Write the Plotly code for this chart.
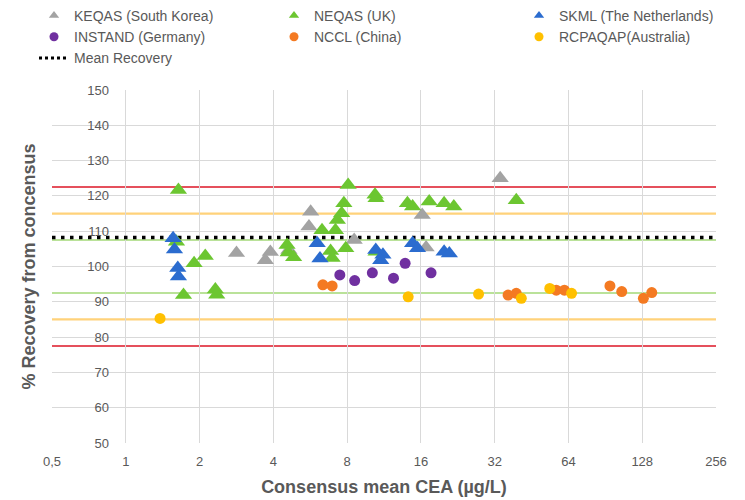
import math
import plotly.graph_objects as go

# ---------------- data ----------------
X_TICKS = [0.5, 1, 2, 4, 8, 16, 32, 64, 128, 256]
X_TICK_TEXT = ["0,5", "1", "2", "4", "8", "16", "32", "64", "128", "256"]

keqas_x = [2.83, 3.71, 3.89, 4.63, 5.59, 5.68, 8.55, 16.2, 16.8, 33.7]
keqas_y = [103.8, 101.8, 104.1, 104.7, 111.3, 115.5, 107.5, 114.6, 105.4, 125.0]

neqas_x = [1.64, 1.61, 1.90, 2.11, 1.72, 2.32, 2.35,
           4.55, 4.60, 4.84, 6.32, 6.85, 6.95, 7.17, 7.30, 7.60, 7.76, 8.08, 7.90,
           10.4, 10.5, 10.5, 14.1, 14.8, 17.3, 19.9, 21.8, 39.2]
neqas_y = [121.7, 107.0, 100.9, 103.0, 91.9, 93.5, 92.0,
           106.1, 104.0, 102.6, 110.3, 104.4, 102.4, 110.3, 113.2, 115.1, 117.9, 123.1, 105.2,
           120.3, 119.3, 104.2, 117.9, 117.0, 118.4, 117.9, 117.0, 118.8]

skml_x = [1.56, 1.58, 1.63, 1.64, 6.04, 6.20, 10.47, 11.2, 10.97, 14.8, 15.5, 19.9, 20.9]
skml_y = [108.0, 104.8, 99.6, 97.2, 106.6, 102.3, 104.7, 103.3, 101.8, 106.6, 105.2, 104.2, 103.7]

instand_x = [7.47, 8.59, 10.14, 12.37, 13.8, 17.6]
instand_y = [97.6, 96.0, 98.2, 96.7, 100.9, 98.2]

nccl_x = [6.37, 6.95, 36.3, 39.2, 57.1, 61.6, 94.5, 105.6, 129.4, 140.0]
nccl_y = [94.8, 94.5, 91.9, 92.4, 93.3, 93.3, 94.5, 92.9, 91.0, 92.6]

rcpa_x = [1.38, 14.2, 27.5, 41.1, 53.7, 65.9]
rcpa_y = [85.3, 91.4, 92.2, 91.0, 93.8, 92.4]

MEAN_RECOVERY = 108.2
RED_LIMITS = [122.5, 77.5]
YELLOW_LIMITS = [115, 85]
GREEN_LIMITS = [107.5, 92.5]

X_TITLE = "Consensus mean CEA (µg/L)"
Y_TITLE = "% Recovery from concensus"

# ---------------- style ----------------
GREY = "#a3a3a3"
GREEN = "#6cc631"
BLUE = "#2b6ccf"
PURPLE = "#7030a0"
ORANGE = "#f47a22"
YELLOW = "#ffc000"
TEXT = "#595959"
GRID = "#d9d9d9"
FONT = "Arial, Liberation Sans, sans-serif"

fig = go.Figure()

# mean recovery line (below markers)
fig.add_trace(go.Scatter(
    x=[X_TICKS[0], X_TICKS[-1]], y=[MEAN_RECOVERY, MEAN_RECOVERY],
    mode="lines", line=dict(color="black", width=3.5, dash="3.5px,5.5px"),
    name="Mean Recovery", showlegend=False, hoverinfo="skip"))

series = [
    ("KEQAS (South Korea)", keqas_x, keqas_y, "triangle-up", GREY, "legend"),
    ("NEQAS (UK)", neqas_x, neqas_y, "triangle-up", GREEN, "legend2"),
    ("SKML (The Netherlands)", skml_x, skml_y, "triangle-up", BLUE, "legend3"),
    ("INSTAND (Germany)", instand_x, instand_y, "circle", PURPLE, "legend"),
    ("NCCL (China)", nccl_x, nccl_y, "circle", ORANGE, "legend2"),
    ("RCPAQAP(Australia)", rcpa_x, rcpa_y, "circle", YELLOW, "legend3"),
]

for name, xs, ys, sym, col, lg in series:
    fig.add_trace(go.Scatter(
        x=xs, y=ys, mode="markers", name=name, showlegend=False,
        marker=dict(symbol=sym, size=15 if sym == "triangle-up" else 11,
                    color=col, line=dict(width=0))))

# legend entries (small symbols like the reference)
for name, xs, ys, sym, col, lg in series:
    fig.add_trace(go.Scatter(
        x=[None], y=[None], mode="markers", name=name, legend=lg,
        marker=dict(symbol=sym, size=9, color=col)))
fig.add_trace(go.Scatter(
    x=[None], y=[None], mode="lines", name="Mean Recovery", legend="legend",
    line=dict(color="black", width=3, dash="3px,3px")))

shapes = []
for vals, col, w in [(GREEN_LIMITS, "#a3d877", 1.5),
                     (YELLOW_LIMITS, "#ffd27a", 2.2),
                     (RED_LIMITS, "#e5505c", 2)]:
    for v in vals:
        shapes.append(dict(type="line", xref="paper", x0=0, x1=1,
                           yref="y", y0=v, y1=v,
                           line=dict(color=col, width=w), layer="below"))

leg_common = dict(xref="container", yref="container", xanchor="left",
                  yanchor="top", bgcolor="rgba(0,0,0,0)",
                  font=dict(family=FONT, size=14, color=TEXT),
                  tracegroupgap=0, itemwidth=30)

fig.update_layout(
    width=745, height=500,
    margin=dict(l=52, r=29, t=90, b=57, autoexpand=False),
    paper_bgcolor="white", plot_bgcolor="white",
    font=dict(family=FONT, color=TEXT, size=13),
    shapes=shapes,
    legend=dict(x=34 / 745, y=1 - 0 / 500, **leg_common),
    legend2=dict(x=274 / 745, y=1 - 0 / 500, **leg_common),
    legend3=dict(x=519 / 745, y=1 - 0 / 500, **leg_common),
    xaxis=dict(
        type="log",
        range=[math.log10(X_TICKS[0]), math.log10(X_TICKS[-1])],
        tickvals=X_TICKS, ticktext=X_TICK_TEXT,
        showgrid=True, gridcolor=GRID, gridwidth=1,
        zeroline=False, showline=False, ticks="",
        tickfont=dict(size=13, color=TEXT),
        ticklabelstandoff=9,
        automargin=False,
        title=dict(text=X_TITLE,
                   font=dict(size=18, color=TEXT, weight="bold"),
                   standoff=12),
    ),
    yaxis=dict(
        range=[50, 150], tick0=50, dtick=10,
        showgrid=True, gridcolor=GRID, gridwidth=1,
        zeroline=False, showline=False, ticks="",
        tickfont=dict(size=13, color=TEXT),
        ticklabelstandoff=-58,
        automargin=False,
    ),
    annotations=[dict(
        text=Y_TITLE, xref="paper", yref="paper",
        x=-24 / 664, y=0.5, xanchor="center", yanchor="middle",
        textangle=-90, showarrow=False,
        font=dict(family=FONT, size=18, color=TEXT, weight="bold"))],
)

fig.write_html("out.html")
